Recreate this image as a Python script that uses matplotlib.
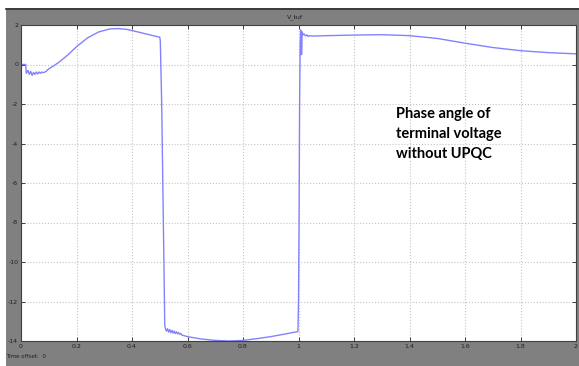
import numpy as np
import matplotlib
matplotlib.use("Agg")
from matplotlib import pyplot as plt
from matplotlib.patches import Rectangle
from matplotlib.lines import Line2D

# Aeg (s) ja faasinurk, loetud pildilt
aeg = [0.0, 0.017, 0.019, 0.025, 0.03, 0.035, 0.04, 0.045, 0.05, 0.055, 0.06,
       0.065, 0.07, 0.075, 0.08, 0.09, 0.1, 0.12, 0.14, 0.17, 0.2, 0.24, 0.28,
       0.32, 0.35, 0.38, 0.4, 0.45, 0.5,
       0.502, 0.507, 0.511, 0.515, 0.518,
       0.52, 0.524, 0.528, 0.532, 0.536, 0.54, 0.544, 0.548, 0.552, 0.556, 0.56,
       0.564, 0.568, 0.572, 0.576,
       0.58, 0.6, 0.65, 0.7, 0.75, 0.8, 0.85, 0.9, 0.95, 0.998,
       1.0, 1.002, 1.004, 1.006, 1.008, 1.010, 1.011, 1.013, 1.016, 1.02,
       1.025, 1.03, 1.035, 1.04, 1.05, 1.08, 1.1,
       1.2, 1.3, 1.4, 1.5, 1.6, 1.7, 1.8, 1.9, 2.0]
nurk = [0.0, 0.0, -0.45, -0.3, -0.5, -0.35, -0.55, -0.4, -0.5, -0.38, -0.48,
        -0.38, -0.45, -0.38, -0.42, -0.35, -0.22, -0.05, 0.15, 0.5, 0.9, 1.35, 1.65,
        1.8, 1.82, 1.78, 1.72, 1.55, 1.38,
        1.2, -2.0, -6.0, -10.0, -13.2,
        -13.35, -13.5, -13.38, -13.55, -13.42, -13.58, -13.46, -13.6, -13.5, -13.62, -13.53,
        -13.64, -13.57, -13.66, -13.62,
        -13.7, -13.78, -13.9, -13.97, -14.0, -13.97, -13.88, -13.78, -13.65, -13.52,
        -12.0, -8.0, -2.0, 1.0, 1.75, 1.6, 0.5, 1.65, 1.5, 1.55,
        1.45, 1.5, 1.42, 1.46, 1.44, 1.45, 1.46,
        1.49, 1.51, 1.46, 1.32, 1.08, 0.86, 0.7, 0.6, 0.54]

x_tikid = [0, 0.2, 0.4, 0.6, 0.8, 1, 1.2, 1.4, 1.6, 1.8, 2]
x_sildid = ["0", "0.2", "0.4", "0.6", "0.8", "1", "1.2", "1.4", "1.6", "1.8", "2"]
y_tikid = [2, 0, -2, -4, -6, -8, -10, -12, -14]
y_sildid = ["2", "0", "-2", "-4", "-6", "-8", "-10", "-12", "-14"]

hall = "#808080"

fig = plt.figure(figsize=(5.79, 3.66), dpi=100)
fig.patch.set_facecolor("white")

# Scope'i hall taust
fig.add_artist(Rectangle((6 / 579, 0), 1, 1 - 8 / 366, transform=fig.transFigure,
                         facecolor=hall, edgecolor="none", zorder=0))
fig.add_artist(Line2D([6 / 579, 1], [1 - 8.5 / 366, 1 - 8.5 / 366], transform=fig.transFigure,
                      color="#303030", lw=1.2))

ax = fig.add_axes([21 / 579, 1 - 341 / 366, 555 / 579, 316 / 366])
ax.set_facecolor("white")
ax.plot(aeg, nurk, color="#8282ff", lw=1.0)

ax.set_xlim(0, 2)
ax.set_ylim(-14, 2)
ax.set_xticks(x_tikid)
ax.set_xticklabels(x_sildid)
ax.set_yticks(y_tikid)
ax.set_yticklabels(y_sildid)
ax.grid(True, color="#c4c4c4", linestyle=":", lw=0.8)
ax.tick_params(direction="in", length=3, width=0.6, top=True, right=True,
               labelsize=4.5, colors="#202020", pad=2)
for s in ax.spines.values():
    s.set_color("#404040")
    s.set_linewidth(0.8)

ax.text(1.352, -2.15, "Phase angle of\nterminal voltage\nwithout UPQC",
        fontsize=10.5, fontweight="bold", family="Lato", va="top", ha="left",
        linespacing=1.55)

fig.text(295 / 579, 1 - 17 / 366, "V_tuf", fontsize=4.5, ha="center", va="center",
         color="#202020")
fig.text(6 / 579, 1 - 356 / 366, "Time offset:  0", fontsize=4, ha="left", va="center",
         color="#202020")

plt.savefig("out.png", dpi=100, facecolor=fig.get_facecolor())
